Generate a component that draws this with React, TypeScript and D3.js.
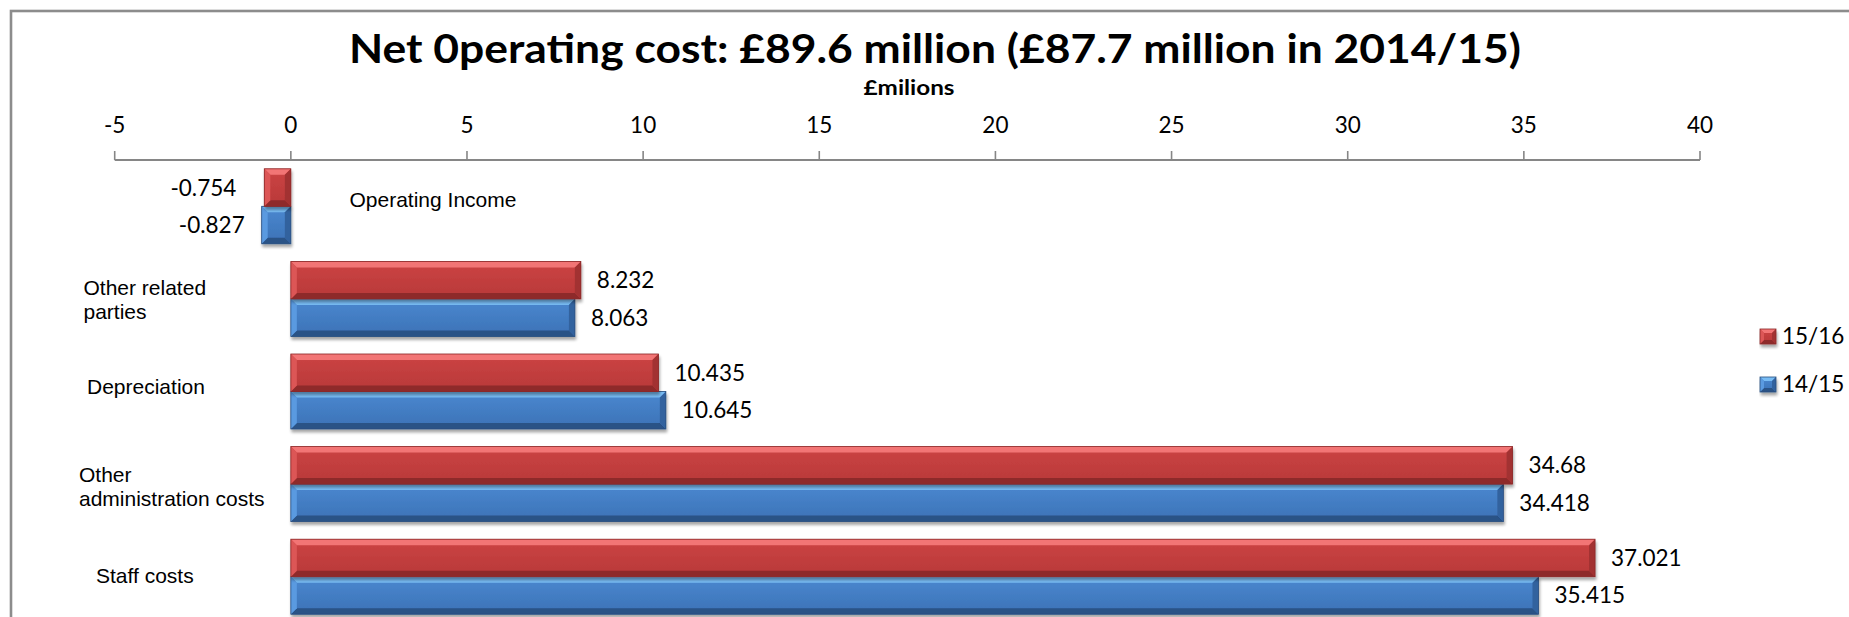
import React from "react";
import * as d3 from "d3";

// ---------- data ----------
const categories = [
  "Operating Income",
  "Other related parties",
  "Depreciation",
  "Other administration costs",
  "Staff costs",
];
const categoryLabelLines = [
  ["Operating Income"],
  ["Other related", "parties"],
  ["Depreciation"],
  ["Other", "administration costs"],
  ["Staff costs"],
];
const seriesNames = ["15/16", "14/15"];
const values1516 = [-0.754, 8.232, 10.435, 34.68, 37.021];
const values1415 = [-0.827, 8.063, 10.645, 34.418, 35.415];
const xTicks = [-5, 0, 5, 10, 15, 20, 25, 30, 35, 40];
const titleText = "Net 0perating cost: £89.6 million (£87.7 million in 2014/15)";
const axisTitle = "£milions";

// ---------- layout (not data) ----------
const W = 1849;
const H = 617;
const labelLayout = [
  { x: 349.5, dy: 1 },
  { x: 83.5, dy: -3.6 },
  { x: 87, dy: 2 },
  { x: 79, dy: -1.8 },
  { x: 96, dy: 6.6 },
];

const palettes = [
  {
    id: "red",
    top: "#F27474",
    faceTop: "#CC4444",
    faceBot: "#B83838",
    bottom: "#8E2B2B",
    left: "#DC5656",
    right: "#A23232",
    stroke: "#8A2828",
  },
  {
    id: "blue",
    top: "#78BCF4",
    faceTop: "#4A88D0",
    faceBot: "#3C72B6",
    bottom: "#2A5286",
    left: "#5A9AE0",
    right: "#33629E",
    stroke: "#2A4E7E",
  },
];

function BevelBar({ x0, x1, y0, y1, pal, bev = 6 }) {
  const w = x1 - x0;
  const h = y1 - y0;
  const b = Math.min(bev, w / 3, h / 3);
  const pts = (arr) => arr.map((p) => p.join(",")).join(" ");
  return (
    <g filter="url(#barShadow)">
      <rect x={x0} y={y0} width={w} height={h} fill={`url(#face-${pal.id})`} />
      <polygon
        points={pts([[x0, y0], [x1, y0], [x1 - b, y0 + b], [x0 + b, y0 + b]])}
        fill={pal.top}
      />
      <polygon
        points={pts([[x0, y1], [x1, y1], [x1 - b, y1 - b], [x0 + b, y1 - b]])}
        fill={pal.bottom}
      />
      <polygon
        points={pts([[x0, y0], [x0 + b, y0 + b], [x0 + b, y1 - b], [x0, y1]])}
        fill={pal.left}
      />
      <polygon
        points={pts([[x1, y0], [x1 - b, y0 + b], [x1 - b, y1 - b], [x1, y1]])}
        fill={pal.right}
      />
      <rect
        x={x0}
        y={y0}
        width={w}
        height={h}
        fill="none"
        stroke={pal.stroke}
        strokeWidth={0.8}
      />
    </g>
  );
}

export default function App() {
  const x = d3.scaleLinear().domain([-5, 40]).range([114.7, 1700]);
  const y = d3
    .scaleBand()
    .domain(categories)
    .range([160, 623])
    .paddingInner(0.19)
    .paddingOuter(0.095);
  const ySub = d3
    .scaleBand()
    .domain(seriesNames)
    .range([0, y.bandwidth()]);
  const seriesValues = [values1516, values1415];
  const axisY = 160;
  const numFont = "Lato, 'Open Sans', sans-serif";
  const catFont = "'Liberation Sans', Arial, sans-serif";

  return (
    <svg
      width={W}
      height={H}
      style={{ position: "absolute", left: 0, top: 0, display: "block" }}
    >
      <defs>
        {palettes.map((p) => (
          <linearGradient key={p.id} id={`face-${p.id}`} x1="0" y1="0" x2="0" y2="1">
            <stop offset="0" stopColor={p.faceTop} />
            <stop offset="1" stopColor={p.faceBot} />
          </linearGradient>
        ))}
        <filter id="barShadow" x="-10%" y="-20%" width="130%" height="160%">
          <feGaussianBlur in="SourceAlpha" stdDeviation="1.6" />
          <feOffset dx="1" dy="2.5" result="off" />
          <feComponentTransfer>
            <feFuncA type="linear" slope="0.35" />
          </feComponentTransfer>
          <feMerge>
            <feMergeNode />
            <feMergeNode in="SourceGraphic" />
          </feMerge>
        </filter>
      </defs>
      <rect width={W} height={H} fill="#fff" />
      {/* chart border */}
      <rect
        x={11}
        y={11}
        width={W + 40}
        height={H + 40}
        fill="none"
        stroke="#8c8c8c"
        strokeWidth={2.6}
      />

      {/* title */}
      <text
        x={935}
        y={63}
        textAnchor="middle"
        fontFamily={numFont}
        fontWeight={700}
        fontSize={40}
        textLength={1172}
        lengthAdjust="spacingAndGlyphs"
        fill="#000"
      >
        {titleText}
      </text>
      <text
        x={909}
        y={95}
        textAnchor="middle"
        fontFamily={numFont}
        fontWeight={700}
        fontSize={20}
        textLength={91}
        lengthAdjust="spacingAndGlyphs"
        fill="#000"
      >
        {axisTitle}
      </text>

      {/* value axis on top */}
      <line
        x1={x(-5)}
        x2={x(40)}
        y1={axisY}
        y2={axisY}
        stroke="#868686"
        strokeWidth={2}
      />
      {xTicks.map((t) => (
        <g key={t}>
          <line
            x1={x(t)}
            x2={x(t)}
            y1={axisY - 9}
            y2={axisY}
            stroke="#868686"
            strokeWidth={1.6}
          />
          <text
            x={x(t)}
            y={133}
            textAnchor="middle"
            fontFamily={numFont}
            fontSize={22.5}
            fill="#000"
          >
            {t}
          </text>
        </g>
      ))}

      {/* bars: blue first, then red */}
      {[1, 0].map((si) =>
        categories.map((c, ci) => {
          const v = seriesValues[si][ci];
          const y0 = y(c) + ySub(seriesNames[si]);
          const y1 = y0 + ySub.bandwidth();
          const x0 = Math.min(x(0), x(v));
          const x1 = Math.max(x(0), x(v));
          return (
            <BevelBar
              key={`${si}-${ci}`}
              x0={x0}
              x1={x1}
              y0={y0}
              y1={y1}
              pal={palettes[si]}
            />
          );
        })
      )}

      {/* data labels */}
      {[0, 1].map((si) =>
        categories.map((c, ci) => {
          const v = seriesValues[si][ci];
          const yc = y(c) + ySub(seriesNames[si]) + ySub.bandwidth() / 2;
          const neg = v < 0;
          const gap = neg ? (si === 0 ? 28 : 17) : 16;
          return (
            <text
              key={`l-${si}-${ci}`}
              x={neg ? x(v) - gap : x(v) + gap}
              y={yc + 8}
              textAnchor={neg ? "end" : "start"}
              fontFamily={numFont}
              fontSize={22.5}
              fill="#000"
            >
              {String(v)}
            </text>
          );
        })
      )}

      {/* category labels */}
      {categories.map((c, ci) => {
        const yc = y(c) + y.bandwidth() / 2;
        const lay = labelLayout[ci];
        return (
          <text
            key={`c-${ci}`}
            fontFamily={catFont}
            fontSize={21}
            fill="#000"
          >
            {categoryLabelLines[ci].map((line, li) => (
              <tspan key={li} x={lay.x} y={yc + lay.dy + li * 23.8}>
                {line}
              </tspan>
            ))}
          </text>
        );
      })}

      {/* legend */}
      {seriesNames.map((s, si) => {
        const ly = 329 + si * 48;
        return (
          <g key={s}>
            <BevelBar
              x0={1760}
              x1={1776}
              y0={ly}
              y1={ly + 15}
              pal={palettes[si]}
              bev={4}
            />
            <text
              x={1782}
              y={ly + 15}
              fontFamily={numFont}
              fontSize={22.5}
              fill="#000"
            >
              {s}
            </text>
          </g>
        );
      })}
    </svg>
  );
}
